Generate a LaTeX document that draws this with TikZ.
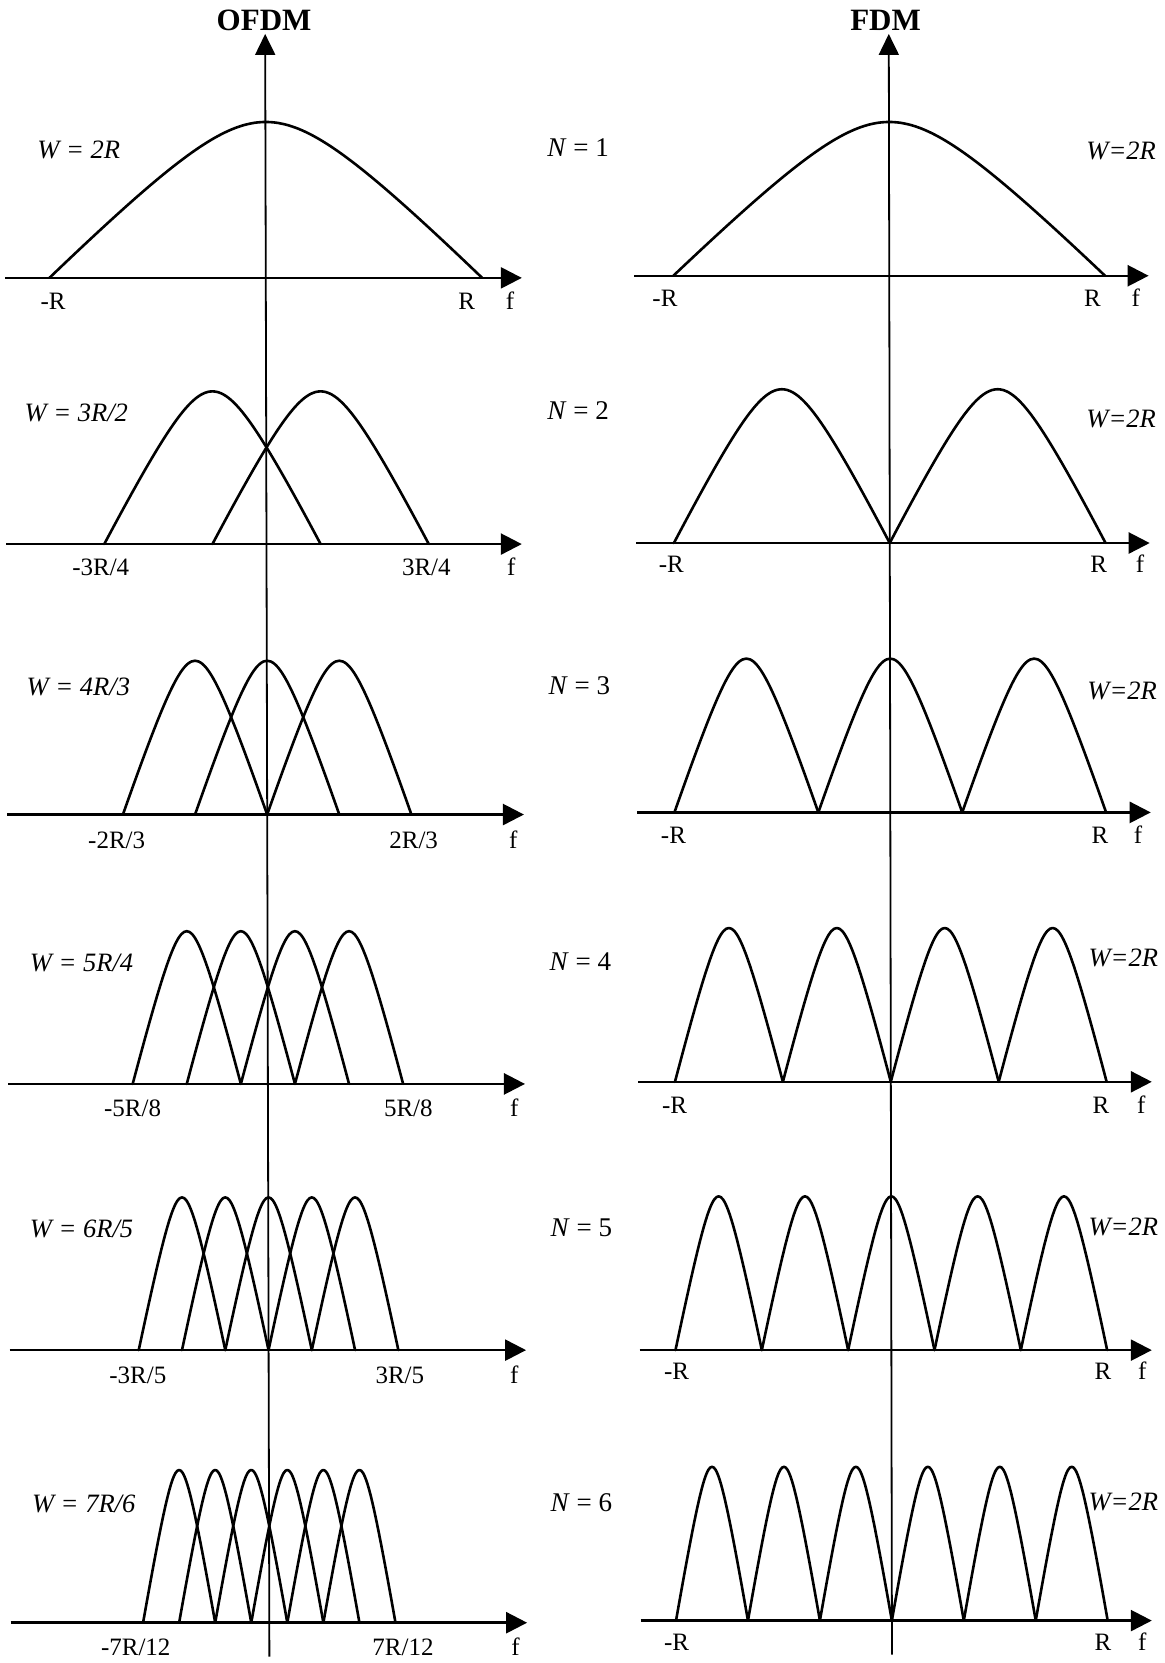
\documentclass[tikz,border=0pt]{standalone}
\usepackage{fontspec}
\setmainfont{Liberation Serif}
\usetikzlibrary{arrows.meta}
\begin{document}
\begin{tikzpicture}[x=1.0601pt,y=-1.0601pt,
  curve/.style={line width=2.6pt, line join=round, line cap=round},
  haxis/.style={line width=2.5pt, -{Triangle[length=21pt,width=21pt]}},
  vaxis/.style={line width=1.8pt, -{Triangle[length=21pt,width=20pt]}},
  lab/.style={font=\fontsize{25}{25}\selectfont, inner sep=0pt, anchor=base},
  wlab/.style={font=\fontsize{26.5}{26.5}\selectfont\itshape, inner sep=0pt, anchor=base west},
  flab/.style={font=\fontsize{26.5}{26.5}\selectfont\itshape, inner sep=0pt, anchor=base east},
  nlab/.style={font=\fontsize{27}{27}\selectfont, inner sep=0pt, anchor=base west},
  ttl/.style={font=\fontsize{31}{31}\selectfont\bfseries, inner sep=0pt, anchor=base},
  declare function={lobe(\t)=(sqrt(1.1225)-sqrt(\t*\t+0.1225))/(sqrt(1.1225)-0.35);}
]
\useasboundingbox (0,0) rectangle (1098,1568);

% titles
\node[ttl] (t1) at (249,29) {OFDM};
\node[ttl] (t2) at (835,29) {FDM};

% vertical axes
\coordinate (ov0) at (254,1562);
\coordinate (ov1) at (250,32);
\coordinate (fv0) at (841,1560);
\coordinate (fv1) at (838,32);
\draw[vaxis] (ov0) -- (ov1);
\draw[vaxis] (fv0) -- (fv1);

% OFDM panels: k / axis y / centre x / start x / end x / height
\foreach \k/\ya/\c/\xs/\xe/\hh in {1/262/250.6/5/492/147, 2/513/251.3/6/492/144, 3/768/251.9/7/494/145, 4/1022/252.6/8/495/144, 5/1273/253.2/9/496/144, 6/1530/253.9/10/497/144}{
  \coordinate (oa\k) at (\xs,\ya);
  \coordinate (ob\k) at (\xe,\ya);
  \draw[haxis] (oa\k) -- (ob\k);
  \foreach \i in {1,...,\k}{
    \draw[curve] plot[domain=-1:1, samples=41, smooth]
      ({\c + (\i-(\k+1)/2)*204/\k + 204/\k*\x}, {\ya - \hh*lobe(\x)});
  }
}

% FDM panels
\foreach \k/\ya/\c/\xs/\xe in {1/260/838.4/598/1083, 2/512/838.9/600/1084, 3/766/839.4/601/1085, 4/1020/839.9/602/1086, 5/1273/840.4/603/1086, 6/1528/840.9/604/1086}{
  \coordinate (fa\k) at (\xs,\ya);
  \coordinate (fb\k) at (\xe,\ya);
  \draw[haxis] (fa\k) -- (fb\k);
  \foreach \i in {1,...,\k}{
    \draw[curve] plot[domain=-1:1, samples=41, smooth]
      ({\c - 203.5 + (2*\i-1)*203.5/\k + 203.5/\k*\x}, {\ya - 145*lobe(\x)});
  }
}

% OFDM labels
\node[wlab] (ow1) at (35,149) {W = 2R};
\node[wlab] (ow2) at (23,397) {W = 3R/2};
\node[wlab] (ow3) at (25,656) {W = 4R/3};
\node[wlab] (ow4) at (28,916) {W = 5R/4};
\node[wlab] (ow5) at (28,1167) {W = 6R/5};
\node[wlab] (ow6) at (30,1426) {W = 7R/6};

\node[lab] (ol1) at (50,292) {-R};
\node[lab] (or1) at (440,292) {R};
\node[lab] (of1) at (481,292) {f};
\node[lab] (ol2) at (95,543) {-3R/4};
\node[lab] (or2) at (402,543) {3R/4};
\node[lab] (of2) at (482,543) {f};
\node[lab] (ol3) at (110,800) {-2R/3};
\node[lab] (or3) at (390,800) {2R/3};
\node[lab] (of3) at (484,800) {f};
\node[lab] (ol4) at (125,1053) {-5R/8};
\node[lab] (or4) at (385,1053) {5R/8};
\node[lab] (of4) at (485,1053) {f};
\node[lab] (ol5) at (130,1304) {-3R/5};
\node[lab] (or5) at (377,1304) {3R/5};
\node[lab] (of5) at (485,1304) {f};
\node[lab] (ol6) at (128,1561) {-7R/12};
\node[lab] (or6) at (380,1561) {7R/12};
\node[lab] (of6) at (486,1561) {f};

% N labels
\node[nlab] (n1) at (516,148) {\textit{N} = 1};
\node[nlab] (n2) at (516,396) {\textit{N} = 2};
\node[nlab] (n3) at (517,655) {\textit{N} = 3};
\node[nlab] (n4) at (518,915) {\textit{N} = 4};
\node[nlab] (n5) at (519,1166) {\textit{N} = 5};
\node[nlab] (n6) at (519,1425) {\textit{N} = 6};

% FDM labels
\node[flab] (fw1) at (1090,150) {W=2R};
\node[flab] (fw2) at (1090,403) {W=2R};
\node[flab] (fw3) at (1091,660) {W=2R};
\node[flab] (fw4) at (1092,911) {W=2R};
\node[flab] (fw5) at (1092,1165) {W=2R};
\node[flab] (fw6) at (1092,1424) {W=2R};

\node[lab] (fl1) at (627,289) {-R};
\node[lab] (fr1) at (1030,289) {R};
\node[lab] (ff1) at (1071,289) {f};
\node[lab] (fl2) at (633,540) {-R};
\node[lab] (fr2) at (1036,540) {R};
\node[lab] (ff2) at (1075,540) {f};
\node[lab] (fl3) at (635,795) {-R};
\node[lab] (fr3) at (1037,795) {R};
\node[lab] (ff3) at (1073,795) {f};
\node[lab] (fl4) at (636,1050) {-R};
\node[lab] (fr4) at (1038,1050) {R};
\node[lab] (ff4) at (1076,1050) {f};
\node[lab] (fl5) at (638,1301) {-R};
\node[lab] (fr5) at (1040,1301) {R};
\node[lab] (ff5) at (1077,1301) {f};
\node[lab] (fl6) at (638,1556) {-R};
\node[lab] (fr6) at (1040,1556) {R};
\node[lab] (ff6) at (1077,1556) {f};
\end{tikzpicture}
\end{document}
